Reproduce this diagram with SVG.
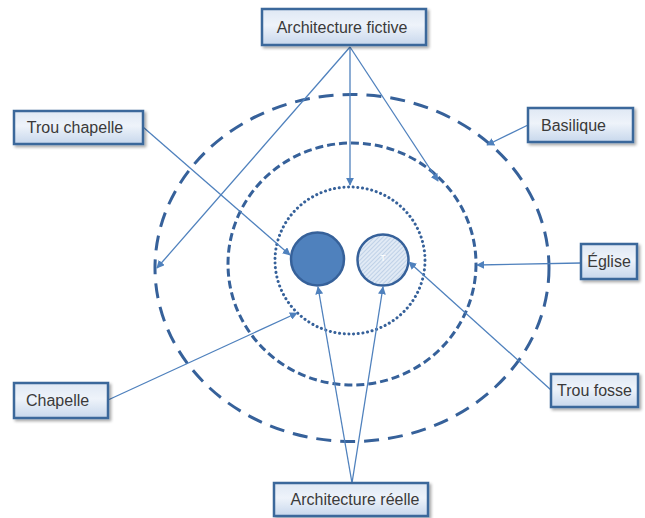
<svg xmlns="http://www.w3.org/2000/svg" width="645" height="518" viewBox="0 0 645 518">
  <defs>
    <linearGradient id="boxFill" x1="0" y1="0" x2="0" y2="1">
      <stop offset="0" stop-color="#dfe8f4"/>
      <stop offset="0.45" stop-color="#eef3fa"/>
      <stop offset="1" stop-color="#c7d7ec"/>
    </linearGradient>
    <pattern id="hatch" width="3" height="3" patternUnits="userSpaceOnUse" patternTransform="rotate(45)">
      <rect width="3" height="3" fill="#e1eaf5"/>
      <line x1="0" y1="0" x2="0" y2="3" stroke="#a9c1df" stroke-width="1.2"/>
    </pattern>
    <filter id="shadow" x="-10%" y="-20%" width="130%" height="160%">
      <feGaussianBlur in="SourceAlpha" stdDeviation="1.5"/>
      <feOffset dx="1.5" dy="2" result="b"/>
      <feComponentTransfer><feFuncA type="linear" slope="0.35"/></feComponentTransfer>
      <feMerge><feMergeNode/><feMergeNode in="SourceGraphic"/></feMerge>
    </filter>
    <marker id="arrow" viewBox="0 0 10 10" refX="9" refY="5" markerWidth="8" markerHeight="8" markerUnits="userSpaceOnUse" orient="auto">
      <path d="M0,0 L10,5 L0,10 Z" fill="#4f81bd"/>
    </marker>
  </defs>
  <style>
    .box { fill: url(#boxFill); stroke: #3b679b; stroke-width: 2.5; filter: url(#shadow); }
    .label { font-family: "Liberation Sans", Arial, sans-serif; font-size: 16px; fill: #3a3a3a; dominant-baseline: central; }
    .conn { fill: none; stroke: #4f81bd; stroke-width: 1.3; marker-end: url(#arrow); }
    .ring { fill: none; stroke: #36619a; stroke-width: 3; }
  </style>

  <rect width="645" height="518" fill="#ffffff"/>

  <!-- nested enclosures -->
  <g id="basilique-ring">
    <ellipse class="ring" cx="352" cy="268" rx="197" ry="173.5" stroke-dasharray="15 9"/>
  </g>
  <g id="eglise-ring">
    <ellipse class="ring" cx="352" cy="264" rx="124" ry="121" stroke-dasharray="8 4"/>
  </g>
  <g id="chapelle-ring">
    <ellipse class="ring" cx="350" cy="260.5" rx="75" ry="73.5" stroke-width="3" stroke-linecap="round" stroke-dasharray="0.1 4.6"/>
  </g>

  <!-- the two holes -->
  <g id="trou-chapelle-disc">
    <circle cx="317.5" cy="259" r="26.5" fill="#4f81bd" stroke="#36619a" stroke-width="2.5"/>
  </g>
  <g id="trou-fosse-disc">
    <circle cx="383" cy="260" r="25.5" fill="url(#hatch)" stroke="#36619a" stroke-width="2.5"/>
    <text x="383" y="258" font-family="Liberation Sans, Arial, sans-serif" font-size="9" fill="#ffffff" text-anchor="middle" dominant-baseline="central">T</text>
  </g>

  <!-- connectors -->
  <g id="connectors">
    <line class="conn" x1="350" y1="47" x2="157" y2="268"/>
    <line class="conn" x1="350" y1="47" x2="350" y2="185"/>
    <line class="conn" x1="350" y1="47" x2="438" y2="181"/>
    <line class="conn" x1="143" y1="127" x2="290" y2="255"/>
    <line class="conn" x1="528" y1="125" x2="487" y2="145"/>
    <line class="conn" x1="581" y1="263" x2="477" y2="265"/>
    <line class="conn" x1="551" y1="390" x2="409" y2="262"/>
    <line class="conn" x1="108" y1="400" x2="297" y2="313"/>
    <line class="conn" x1="352" y1="483" x2="318" y2="287"/>
    <line class="conn" x1="352" y1="483" x2="383" y2="287"/>
  </g>

  <!-- labels -->
  <g id="architecture-fictive">
    <rect class="box" x="262" y="9" width="164" height="36"/>
    <text class="label" x="342" y="27.5" text-anchor="middle">Architecture fictive</text>
  </g>
  <g id="trou-chapelle">
    <rect class="box" x="14" y="111" width="129" height="33"/>
    <text class="label" x="75" y="127.5" text-anchor="middle">Trou chapelle</text>
  </g>
  <g id="basilique">
    <rect class="box" x="528" y="108" width="105" height="34"/>
    <text class="label" x="541" y="125">Basilique</text>
  </g>
  <g id="eglise">
    <rect class="box" x="581" y="244" width="56" height="35"/>
    <text class="label" x="609" y="261.5" text-anchor="middle">Église</text>
  </g>
  <g id="trou-fosse">
    <rect class="box" x="551" y="374" width="87" height="33"/>
    <text class="label" x="594.5" y="390.5" text-anchor="middle">Trou fosse</text>
  </g>
  <g id="chapelle">
    <rect class="box" x="14" y="383" width="94" height="35"/>
    <text class="label" x="26" y="400.5">Chapelle</text>
  </g>
  <g id="architecture-reelle">
    <rect class="box" x="274" y="483" width="154" height="33"/>
    <text class="label" x="355" y="499.5" text-anchor="middle">Architecture réelle</text>
  </g>
</svg>
